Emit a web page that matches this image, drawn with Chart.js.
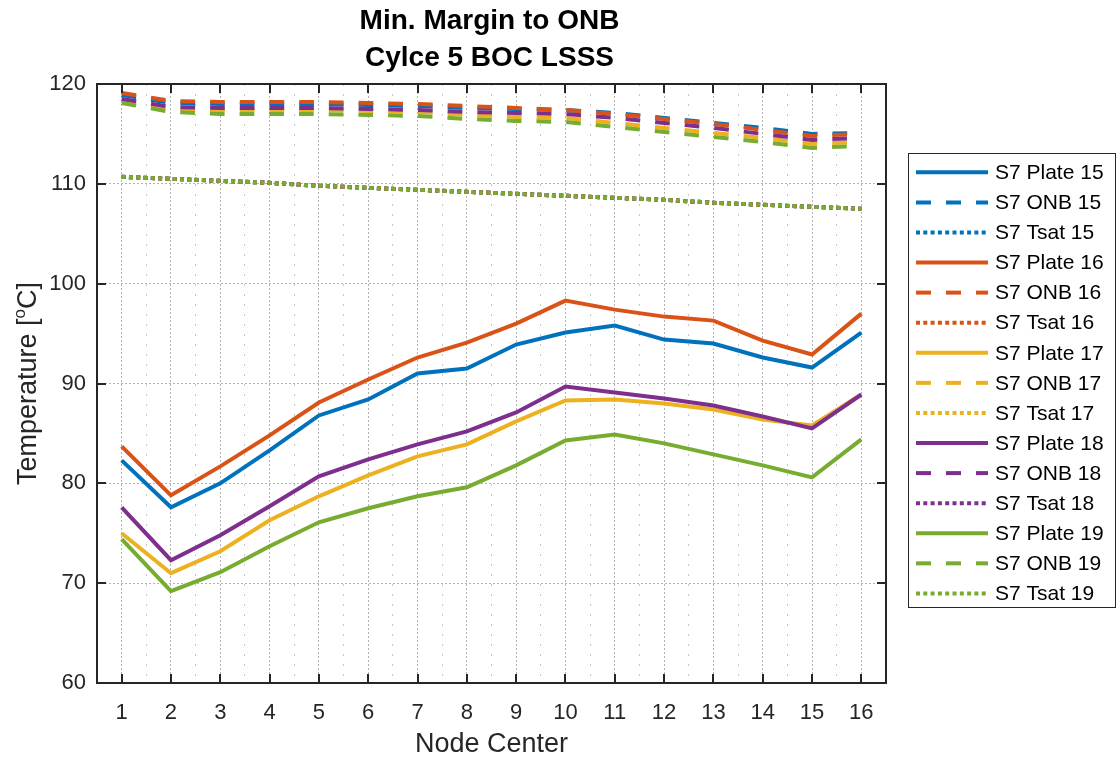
<!DOCTYPE html>
<html>
<head>
<meta charset="utf-8">
<script src="https://cdn.jsdelivr.net/npm/chart.js@4.4.1/dist/chart.umd.min.js"></script>
<style>
  html, body { margin: 0; padding: 0; background: #fff; }
  #wrap { width: 1117px; height: 762px; }
</style>
</head>
<body>
<div id="wrap"><canvas id="marginChart" width="1117" height="762"></canvas></div>
<script>
// node positions along the plate
const nodes = [1, 2, 3, 4, 5, 6, 7, 8, 9, 10, 11, 12, 13, 14, 15, 16];
const yTicks = [60, 70, 80, 90, 100, 110, 120];

// plate surface temperatures (solid)
const plate15 = [82.3, 77.6, 80.0, 83.3, 86.8, 88.4, 91.0, 91.5, 93.9, 95.1, 95.8, 94.4, 94.0, 92.6, 91.6, 95.1];
const plate16 = [83.7, 78.8, 81.7, 84.8, 88.1, 90.4, 92.6, 94.1, 96.0, 98.3, 97.4, 96.7, 96.3, 94.3, 92.9, 97.0];
const plate17 = [75.0, 71.0, 73.2, 76.3, 78.7, 80.8, 82.7, 83.9, 86.2, 88.3, 88.4, 88.0, 87.4, 86.4, 85.8, 88.9];
const plate18 = [77.6, 72.3, 74.8, 77.7, 80.7, 82.4, 83.9, 85.2, 87.1, 89.7, 89.1, 88.5, 87.8, 86.7, 85.5, 88.9];
const plate19 = [74.4, 69.2, 71.1, 73.7, 76.1, 77.5, 78.7, 79.6, 81.8, 84.3, 84.9, 84.0, 82.9, 81.8, 80.6, 84.4];

// onset of nucleate boiling temperatures (dashed)
const onb15 = [118.9, 118.1, 118.0, 118.0, 118.0, 117.9, 117.8, 117.6, 117.5, 117.4, 117.1, 116.6, 116.1, 115.6, 115.0, 115.1];
const onb16 = [119.1, 118.3, 118.2, 118.2, 118.2, 118.1, 118.0, 117.8, 117.6, 117.4, 117.0, 116.5, 116.0, 115.4, 114.8, 115.0];
const onb17 = [118.3, 117.5, 117.4, 117.4, 117.4, 117.3, 117.2, 116.9, 116.7, 116.6, 116.1, 115.6, 115.1, 114.6, 114.0, 114.2];
const onb18 = [118.5, 117.7, 117.6, 117.6, 117.6, 117.5, 117.4, 117.2, 117.1, 117.0, 116.6, 116.1, 115.6, 115.0, 114.4, 114.6];
const onb19 = [118.1, 117.2, 117.0, 117.0, 117.0, 116.9, 116.8, 116.5, 116.3, 116.2, 115.7, 115.2, 114.7, 114.2, 113.6, 113.8];

// saturation temperature (dotted) - same for every plate
const tsat15 = [110.7, 110.5, 110.3, 110.1, 109.8, 109.6, 109.4, 109.2, 109.0, 108.8, 108.6, 108.4, 108.1, 107.9, 107.7, 107.5];
const tsat16 = tsat15;
const tsat17 = tsat15;
const tsat18 = tsat15;
const tsat19 = tsat15;

const plateNames = ['15', '16', '17', '18', '19'];
const plateColors = ['#0072BD', '#D95319', '#EDB120', '#7E2F8E', '#77AC30'];
const seriesByPlate = [
    [plate15, onb15, tsat15],
    [plate16, onb16, tsat16],
    [plate17, onb17, tsat17],
    [plate18, onb18, tsat18],
    [plate19, onb19, tsat19]
];

const DASH = [14.7, 15];
const DOT = [4, 3.3];
const textColor = '#262626';
const fontFam = "'Liberation Sans', Arial, sans-serif";

function toPoints(arr) {
    return nodes.map((n, k) => ({ x: n, y: arr[k] }));
}

// build datasets in the legend order; later ones get drawn on top (like matlab)
const datasets = [];
plateNames.forEach((name, p) => {
    const kinds = [['S7 Plate ', []], ['S7 ONB ', DASH], ['S7 Tsat ', DOT]];
    kinds.forEach((kind, j) => {
        datasets.push({
            label: kind[0] + name,
            data: toPoints(seriesByPlate[p][j]),
            borderColor: plateColors[p],
            backgroundColor: plateColors[p],
            borderWidth: 4,
            borderDash: kind[1],
            pointRadius: 0,
            fill: false,
            tension: 0
        });
    });
});
datasets.forEach((ds, i) => { ds.order = datasets.length - i; });

// box, inward ticks, titles and the legend
const decorPlugin = {
    id: 'decor',
    afterDraw(chart) {
        const ctx = chart.ctx;
        const area = chart.chartArea;
        const xs = chart.scales.x;
        const ys = chart.scales.y;
        ctx.save();

        ctx.strokeStyle = textColor;
        ctx.lineWidth = 2;
        ctx.strokeRect(area.left, area.top, area.right - area.left, area.bottom - area.top);

        const tl = 9;
        ctx.beginPath();
        nodes.forEach(n => {
            const px = Math.round(xs.getPixelForValue(n));
            ctx.moveTo(px, area.bottom); ctx.lineTo(px, area.bottom - tl);
            ctx.moveTo(px, area.top); ctx.lineTo(px, area.top + tl);
        });
        yTicks.forEach(v => {
            const py = Math.round(ys.getPixelForValue(v));
            ctx.moveTo(area.left, py); ctx.lineTo(area.left + tl, py);
            ctx.moveTo(area.right, py); ctx.lineTo(area.right - tl, py);
        });
        ctx.stroke();

        // title
        const cx = (area.left + area.right) / 2;
        ctx.fillStyle = '#000';
        ctx.font = 'bold 28px ' + fontFam;
        ctx.textAlign = 'center';
        ctx.textBaseline = 'middle';
        ctx.fillText('Min. Margin to ONB', cx - 2, 21);
        ctx.fillText('Cylce 5 BOC LSSS', cx - 2, 58);

        // x axis label
        ctx.fillStyle = textColor;
        ctx.font = '27px ' + fontFam;
        ctx.fillText('Node Center', cx, 745);

        // y axis label with superscript o
        ctx.save();
        ctx.translate(29, (area.top + area.bottom) / 2);
        ctx.rotate(-Math.PI / 2);
        const big = '27px ' + fontFam;
        const small = '17px ' + fontFam;
        ctx.font = big;
        const w1 = ctx.measureText('Temperature [').width;
        const w3 = ctx.measureText('C]').width;
        ctx.font = small;
        const w2 = ctx.measureText('o').width;
        let x0 = -(w1 + w2 + w3) / 2;
        ctx.textAlign = 'left';
        ctx.font = big;
        ctx.fillText('Temperature [', x0, 0);
        ctx.font = small;
        ctx.fillText('o', x0 + w1, -9);
        ctx.font = big;
        ctx.fillText('C]', x0 + w1 + w2, 0);
        ctx.restore();

        // legend
        const lx = 908, ly = 153, lw = 207, lh = 454;
        ctx.fillStyle = '#fff';
        ctx.fillRect(lx, ly, lw, lh);
        ctx.strokeStyle = textColor;
        ctx.lineWidth = 1;
        ctx.strokeRect(lx + 0.5, ly + 0.5, lw, lh);
        ctx.font = '21px ' + fontFam;
        ctx.textAlign = 'left';
        ctx.textBaseline = 'middle';
        datasets.forEach((ds, i) => {
            const y = 172.3 + i * 30.08;
            ctx.strokeStyle = ds.borderColor;
            ctx.lineWidth = 4;
            ctx.setLineDash(ds.borderDash.length ? (ds.borderDash === DASH ? [15, 15] : DOT) : []);
            ctx.beginPath();
            ctx.moveTo(916, y);
            ctx.lineTo(988, y);
            ctx.stroke();
            ctx.setLineDash([]);
            ctx.fillStyle = '#000';
            ctx.fillText(ds.label, 995, y + 1);
        });
        ctx.restore();
    }
};

const chart = new Chart(document.getElementById('marginChart').getContext('2d'), {
    type: 'line',
    data: { datasets: datasets },
    options: {
        responsive: false,
        devicePixelRatio: 1,
        animation: false,
        events: [],
        layout: { padding: { top: 84, right: 231, left: 0, bottom: 0 } },
        plugins: {
            legend: { display: false },
            title: { display: false },
            tooltip: { enabled: false }
        },
        scales: {
            x: {
                type: 'linear',
                min: 0.5,
                max: 16.5,
                afterFit: (s) => { s.height = 79; },
                ticks: {
                    stepSize: 0.5,
                    autoSkip: false,
                    maxRotation: 0,
                    minRotation: 0,
                    padding: 17,
                    color: textColor,
                    font: { family: fontFam, size: 22 },
                    callback: (v) => Number.isInteger(v) ? String(v) : ''
                },
                grid: {
                    drawTicks: false,
                    lineWidth: 1,
                    color: (c) => Number.isInteger(c.tick && c.tick.value) ? 'rgba(0,0,0,0.30)' : 'rgba(0,0,0,0.22)'
                },
                border: {
                    display: false,
                    dash: (c) => Number.isInteger(c.tick && c.tick.value) ? [2, 2] : [2, 8]
                }
            },
            y: {
                min: 60,
                max: 120,
                afterFit: (s) => { s.width = 97; },
                ticks: {
                    stepSize: 10,
                    padding: 11,
                    color: textColor,
                    font: { family: fontFam, size: 22 }
                },
                grid: {
                    drawTicks: false,
                    lineWidth: 1,
                    color: 'rgba(0,0,0,0.30)'
                },
                border: { display: false, dash: [2, 2] }
            }
        }
    },
    plugins: [decorPlugin]
});
</script>
</body>
</html>
